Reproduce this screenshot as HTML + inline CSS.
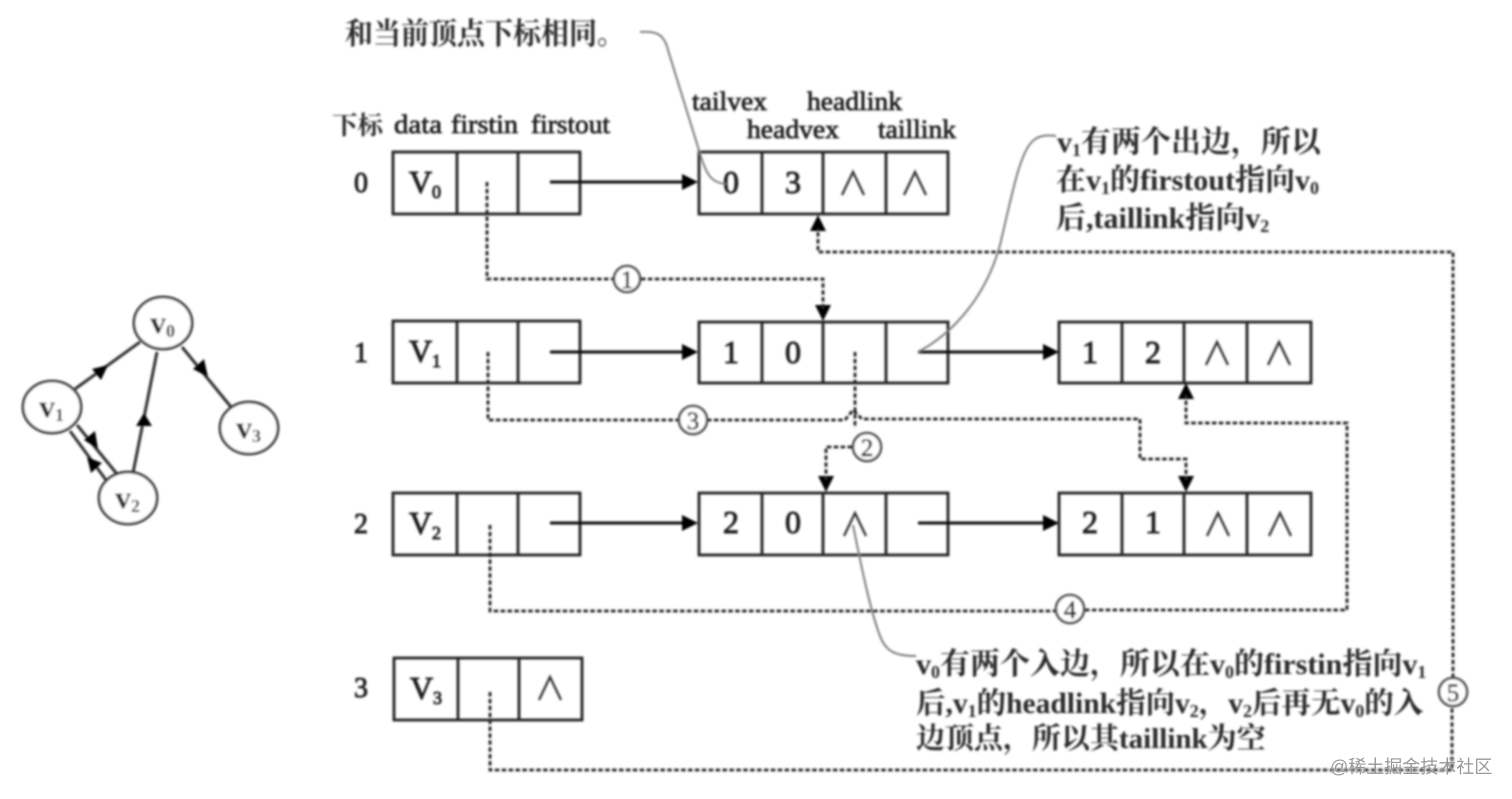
<!DOCTYPE html>
<html><head><meta charset="utf-8"><style>
html,body{margin:0;padding:0;background:#fff;width:1512px;height:799px;overflow:hidden}
svg{display:block}
text{font-family:"Liberation Serif","Noto Serif CJK SC",serif;fill:#1c1c1c}
.cn{font-family:"Liberation Serif","Noto Serif CJK SC",serif;font-size:30px;font-weight:700;fill:#2a2a2a}
.lb{font-size:26px;stroke:#1c1c1c;stroke-width:.7px}
.n{font-size:32px;text-anchor:middle;stroke:#1c1c1c;stroke-width:.9px}
.s{font-size:18px}
.box{fill:none;stroke:#222;stroke-width:2.8}
.d{fill:none;stroke:#222;stroke-width:2.8;stroke-dasharray:4.5 2.4}
.a{fill:none;stroke:#111;stroke-width:3}
.g{fill:none;stroke:#777;stroke-width:1.9}
.c{fill:#fff;stroke:#444;stroke-width:2.6}
.o{fill:#fff;stroke:#333;stroke-width:2.8}
.ct{font-size:25px;text-anchor:middle;stroke:#1c1c1c;stroke-width:.6px}
.h{fill:#000}
.nil{fill:none;stroke:#333;stroke-width:2.3}
.gv{font-size:32px;font-weight:700}
</style></head><body>
<svg width="1512" height="799" viewBox="0 0 1512 799" xmlns="http://www.w3.org/2000/svg">
<defs><filter id="b" x="-2%" y="-2%" width="104%" height="104%"><feGaussianBlur stdDeviation="1"/></filter></defs>
<rect width="1512" height="799" fill="#fff"/>
<g filter="url(#b)">
<!-- left graph -->
<g class="a" style="stroke:#333">
<line x1="140" y1="342" x2="75" y2="389"/>
<line x1="157" y1="352" x2="133" y2="473"/>
<line x1="182" y1="347" x2="231" y2="407"/>
<line x1="77" y1="425" x2="117" y2="474"/>
<line x1="70" y1="431" x2="106" y2="480"/>
</g>
<polygon class="h" points="108,365 92,369 101,380"/>
<polygon class="h" points="144,413 136,426 152,426"/>
<polygon class="h" points="208,377 193,369 204,359"/>
<polygon class="h" points="98,449 84,440 95,431"/>
<polygon class="h" points="87,457 102,463 91,473"/>
<ellipse class="o" cx="163" cy="323" rx="29" ry="26"/>
<ellipse class="o" cx="52" cy="407" rx="29" ry="26"/>
<ellipse class="o" cx="128" cy="498" rx="29" ry="26"/>
<ellipse class="o" cx="249" cy="428" rx="29" ry="26"/>
<text class="gv" x="150" y="333">v<tspan class="s" dy="4">0</tspan></text>
<text class="gv" x="39" y="417">v<tspan class="s" dy="4">1</tspan></text>
<text class="gv" x="115" y="508">v<tspan class="s" dy="4">2</tspan></text>
<text class="gv" x="236" y="438">v<tspan class="s" dy="4">3</tspan></text>

<!-- top text -->
<text class="cn" x="345" y="44" textLength="280" lengthAdjust="spacingAndGlyphs">和当前顶点下标相同。</text>
<text class="cn" style="font-size:25px" x="332" y="134" textLength="51" lengthAdjust="spacingAndGlyphs">下标</text>
<text class="lb" x="394" y="133" textLength="48" lengthAdjust="spacingAndGlyphs">data</text>
<text class="lb" x="451" y="133" textLength="67" lengthAdjust="spacingAndGlyphs">firstin</text>
<text class="lb" x="531" y="133" textLength="79" lengthAdjust="spacingAndGlyphs">firstout</text>
<text class="lb" x="692" y="110" textLength="75" lengthAdjust="spacingAndGlyphs">tailvex</text>
<text class="lb" x="807" y="110" textLength="95" lengthAdjust="spacingAndGlyphs">headlink</text>
<text class="lb" x="747" y="138" textLength="92" lengthAdjust="spacingAndGlyphs">headvex</text>
<text class="lb" x="878" y="138" textLength="78" lengthAdjust="spacingAndGlyphs">taillink</text>

<!-- row indexes -->
<text class="n" x="361" y="192" style="font-size:28px">0</text>
<text class="n" x="361" y="362" style="font-size:28px">1</text>
<text class="n" x="361" y="533" style="font-size:28px">2</text>
<text class="n" x="361" y="697" style="font-size:28px">3</text>

<!-- vertex boxes -->
<g class="box">
<rect x="393" y="152" width="187" height="62"/><path d="M457 152V214M518 152V214"/>
<rect x="393" y="321" width="187" height="62"/><path d="M457 321V383M518 321V383"/>
<rect x="393" y="493" width="187" height="62"/><path d="M457 493V555M518 493V555"/>
<rect x="394" y="658" width="188" height="62"/><path d="M458 658V720M519 658V720"/>
<!-- edge boxes -->
<rect x="699" y="152" width="249" height="62"/><path d="M762 152V214M823 152V214M886 152V214"/>
<rect x="699" y="322" width="249" height="61"/><path d="M762 322V383M823 322V383M886 322V383"/>
<rect x="1059" y="322" width="252" height="61"/><path d="M1122 322V383M1184 322V383M1247 322V383"/>
<rect x="699" y="493" width="249" height="62"/><path d="M762 493V555M823 493V555M886 493V555"/>
<rect x="1059" y="493" width="252" height="62"/><path d="M1122 493V555M1184 493V555M1247 493V555"/>
</g>

<!-- V labels -->
<text class="n" x="425" y="193">V<tspan class="s" dy="5">0</tspan></text>
<text class="n" x="425" y="362">V<tspan class="s" dy="5">1</tspan></text>
<text class="n" x="425" y="534">V<tspan class="s" dy="5">2</tspan></text>
<text class="n" x="426" y="699">V<tspan class="s" dy="5">3</tspan></text>

<!-- cell numbers -->
<text class="n" x="731" y="193">0</text><text class="n" x="793" y="193">3</text>
<text class="n" x="731" y="363">1</text><text class="n" x="793" y="363">0</text>
<text class="n" x="1090" y="363">1</text><text class="n" x="1153" y="363">2</text>
<text class="n" x="731" y="533">2</text><text class="n" x="793" y="533">0</text>
<text class="n" x="1090" y="533">2</text><text class="n" x="1153" y="533">1</text>

<!-- nil marks -->
<path class="nil" d="M842 195L853 172L864 195M904 195L915 172L926 195M1206 365L1217 342L1228 365M1268 365L1279 342L1290 365M844 536L855 513L866 536M1207 536L1218 513L1229 536M1269 536L1280 513L1291 536M539 700L550 677L561 700"/>

<!-- solid arrows -->
<g class="a">
<path d="M550 182H690M550 352H690M550 523H690M918 352H1050M918 523H1050"/>
</g>
<g class="h">
<polygon points="698,182 682,174 682,190"/>
<polygon points="698,352 682,344 682,360"/>
<polygon points="698,523 682,515 682,531"/>
<polygon points="1059,352 1043,344 1043,360"/>
<polygon points="1059,523 1043,515 1043,531"/>
<polygon points="823,321 815,305 831,305"/>
<polygon points="818,215 810,231 826,231"/>
<polygon points="1186,383 1178,399 1194,399"/>
<polygon points="826,492 818,476 834,476"/>
<polygon points="1186,492 1178,476 1194,476"/>
</g>

<!-- dashed connectors -->
<path class="d" d="M487 182V279H614M641 279H823V310"/>
<path class="d" d="M488 352V420H680M707 420H845L853 410L862 419H1140V459H1186V480"/>
<path class="d" d="M855 352V428M852 447H826V480"/>
<path class="d" d="M490 525V611H1056M1085 610H1347V423H1186V395"/>
<path class="d" d="M490 692V770H1452V707M1453 678V252H818V228"/>

<!-- numbered circles -->
<circle class="c" cx="627" cy="279" r="13"/><text class="ct" x="627" y="288">1</text>
<circle class="c" cx="693" cy="420" r="14"/><text class="ct" x="693" y="429">3</text>
<circle class="c" cx="867" cy="447" r="14"/><text class="ct" x="867" y="456">2</text>
<circle class="c" cx="1070" cy="609" r="14"/><text class="ct" x="1070" y="618">4</text>
<circle class="c" cx="1453" cy="692" r="14"/><text class="ct" x="1453" y="701">5</text>

<!-- grey callouts -->
<path class="g" d="M640 32C655 31 664 33 668 50L702 160C708 178 714 183 726 184"/>
<path class="g" d="M918 352C950 335 985 300 1000 245C1012 195 1020 150 1034 140C1040 135 1048 135 1056 136"/>
<path class="g" d="M853 525C860 560 870 610 880 636C886 652 896 656 916 656"/>

<!-- notes -->
<text class="cn" x="1057" y="152">v<tspan class="s" dy="4">1</tspan><tspan dy="-4">有两个出边，所以</tspan></text>
<text class="cn" x="1056" y="190">在v<tspan class="s" dy="4">1</tspan><tspan dy="-4">的firstout指向v</tspan><tspan class="s" dy="4">0</tspan></text>
<text class="cn" x="1056" y="228">后,taillink指向v<tspan class="s" dy="4">2</tspan></text>
<text class="cn" x="916" y="674">v<tspan class="s" dy="4">0</tspan><tspan dy="-4">有两个入边，所以在v</tspan><tspan class="s" dy="4">0</tspan><tspan dy="-4">的firstin指向v</tspan><tspan class="s" dy="4">1</tspan></text>
<text class="cn" style="font-size:29.5px" x="916" y="713">后,v<tspan class="s" dy="4">1</tspan><tspan dy="-4">的headlink指向v</tspan><tspan class="s" dy="4">2</tspan><tspan dy="-4">，v</tspan><tspan class="s" dy="4">2</tspan><tspan dy="-4">后再无v</tspan><tspan class="s" dy="4">0</tspan><tspan dy="-4">的入</tspan></text>
<text class="cn" style="font-size:29px" x="916" y="748">边顶点，所以其taillink为空</text>
</g>
<text x="1330" y="773" style="font-family:'Liberation Sans','Noto Sans CJK SC',sans-serif;fill:#999" font-size="18">@稀土掘金技术社区</text>
</svg>
</body></html>
